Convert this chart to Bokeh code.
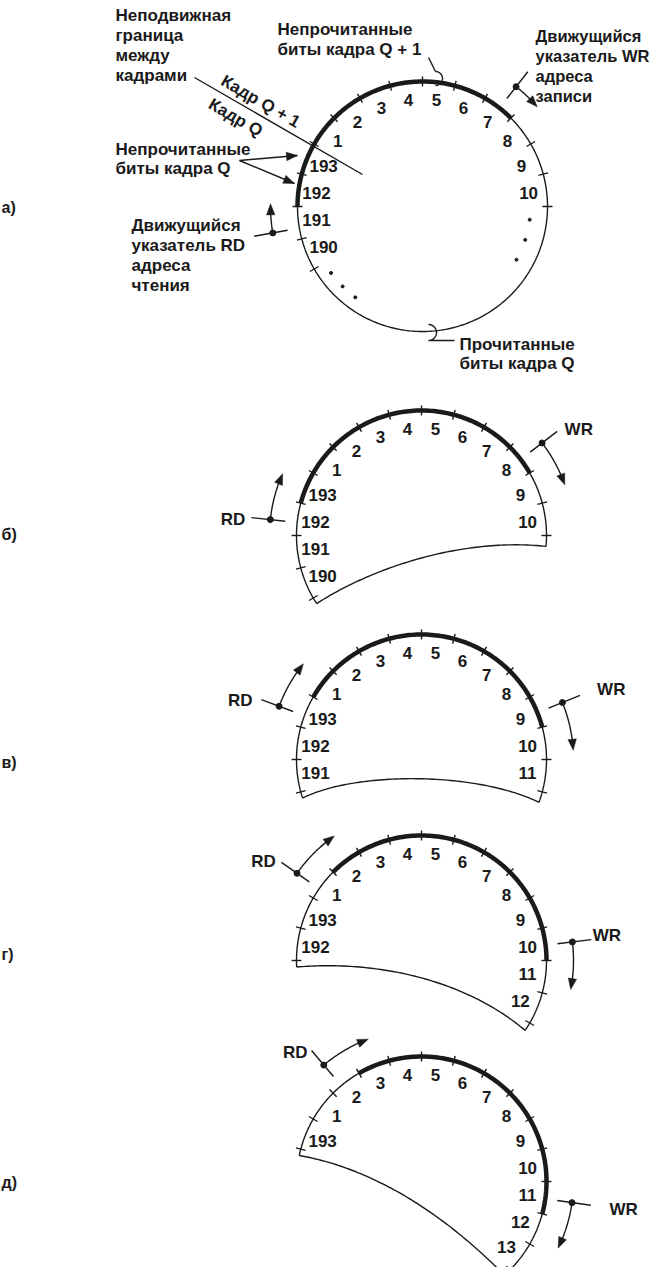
import numpy as np
from bokeh.plotting import figure
from bokeh.models import Range1d
from bokeh.core.properties import value
from bokeh.embed import file_html
from bokeh.resources import INLINE

# ---------------- data ----------------
panel_tags = ["а)", "б)", "в)", "г)", "д)"]
tag_y = [215, 542, 770, 962, 1190]
centers_x = [430, 429, 429, 429, 429]
centers_y = [214, 543, 767, 968, 1189]
radius = 125

bit_labels = [
    ["190", "191", "192", "193", "1", "2", "3", "4", "5", "6", "7", "8", "9", "10"],
    ["190", "191", "192", "193", "1", "2", "3", "4", "5", "6", "7", "8", "9", "10"],
    ["191", "192", "193", "1", "2", "3", "4", "5", "6", "7", "8", "9", "10", "11"],
    ["192", "193", "1", "2", "3", "4", "5", "6", "7", "8", "9", "10", "11", "12"],
    ["193", "1", "2", "3", "4", "5", "6", "7", "8", "9", "10", "11", "12", "13"],
]
tick_range = [(-120, 90), (-120, 90), (-105, 105), (-90, 120), (-75, 135)]
outline_range = [(0, 360), (-123, 95), (-108, 110), (-93, 124), (-78, 138.5)]
thick_range = [(-90, 45), (-75, 60), (-60, 75), (-45, 90), (-30, 105)]
rd_ptr = [(-100, -89), (-84, -66), (-69.5, -51), (-55, -35), (-40, -20.5)]
wr_ptr = [(38, 49), (52.5, 70.5), (68, 86.5), (83, 101), (98, 116)]
# closing curve control points, offsets from the centre (panels б..д)
close_c1 = [None, (-49, 32), (-69, 13), (-49, 0), (-54, -14)]
close_c2 = [None, (41, 2), (51, 11), (41, 17), (16, 26)]
# RD / WR small labels (polar: angle, radius) for panels б..д
rd_txt = [None, (-84.8, 177), (-70.8, 179), (-55.9, 176), (-41.5, 172)]
wr_txt = [None, (53.5, 178), (68.3, 189), (81.7, 173), (98.5, 190)]
# dots "..." in panel a
dots_right = [97, 108, 119.5]
dots_left = [-126, -135, -143.5]

FONT = value("Liberation Sans")
TXT = "17px"
NUM = "17px"
W, H = 654, 1267

p = figure(width=W, height=H, output_backend="svg", toolbar_location=None,
           x_range=Range1d(8, 8 + W), y_range=Range1d(-(8 + H), -8),
           min_border=0)
p.axis.visible = False
p.grid.visible = False
p.outline_line_color = None
p.background_fill_color = "white"
p.border_fill_color = "white"

K = "#1a1a1a"


def pol(cx, cy, r, a):
    t = np.radians(a)
    return cx + r * np.sin(t), -(cy - r * np.cos(t))


def arc(cx, cy, r, a0, a1, n=120):
    a = np.linspace(a0, a1, n)
    x, y = pol(cx, cy, r, a)
    return list(x), list(y)


def head(tip, d, L=11, w=4.2):
    tx, ty = tip
    dx, dy = d
    n = np.hypot(dx, dy)
    dx, dy = dx / n, dy / n
    bx, by = tx - dx * L, ty - dy * L
    return [tx, bx - dy * w, bx + dy * w], [ty, by + dx * w, by - dx * w]


def txt(x, Y, s, size=TXT, align="left", angle=0.0, base="middle"):
    p.text([x], [-Y], text=[s], text_font=FONT, text_font_style="bold",
           text_font_size=size, text_align=align, text_baseline=base,
           angle=angle, text_color=K)


thin_xs, thin_ys, thick_xs, thick_ys = [], [], [], []
heads_x, heads_y = [], []
dot_x, dot_y = [], []

for i in range(5):
    cx, cy = centers_x[i], centers_y[i]
    # outline
    x, y = arc(cx, cy, radius, *outline_range[i], n=360)
    thin_xs.append(x); thin_ys.append(y)
    # closing curve
    if i > 0:
        sx, sy = pol(cx, cy, radius, outline_range[i][0])
        ex, ey = pol(cx, cy, radius, outline_range[i][1])
        c1 = (cx + close_c1[i][0], -(cy + close_c1[i][1]))
        c2 = (cx + close_c2[i][0], -(cy + close_c2[i][1]))
        t = np.linspace(0, 1, 80)
        bx = (1 - t) ** 3 * sx + 3 * (1 - t) ** 2 * t * c1[0] + 3 * (1 - t) * t ** 2 * c2[0] + t ** 3 * ex
        by = (1 - t) ** 3 * sy + 3 * (1 - t) ** 2 * t * c1[1] + 3 * (1 - t) * t ** 2 * c2[1] + t ** 3 * ey
        thin_xs.append(list(bx)); thin_ys.append(list(by))
    # thick
    x, y = arc(cx, cy, radius, *thick_range[i])
    thick_xs.append(x); thick_ys.append(y)
    # ticks
    for a in np.arange(tick_range[i][0], tick_range[i][1] + 1, 15):
        x0, y0 = pol(cx, cy, radius - 5, a)
        x1, y1 = pol(cx, cy, radius + 5, a)
        thin_xs.append([x0, x1]); thin_ys.append([y0, y1])
    # labels
    lx, ly = [], []
    for s in bit_labels[i]:
        v = int(s)
        pos = v - 194 if v > 100 else v - 1
        a = -52.5 + 15 * pos
        x, y = pol(cx, cy, 107, a)
        lx.append(x); ly.append(y)
    p.text(lx, ly, text=bit_labels[i], text_font=FONT, text_font_style="bold",
           text_font_size=NUM, text_align="center", text_baseline="middle",
           text_color=K)
    # pointers
    for (a0, a1) in (rd_ptr[i], wr_ptr[i]):
        x0, y0 = pol(cx, cy, 137, a0)
        x1, y1 = pol(cx, cy, 171, a0)
        thin_xs.append([x0, x1]); thin_ys.append([y0, y1])
        dx_, dy_ = pol(cx, cy, 152, a0)
        dot_x.append(dx_); dot_y.append(dy_)
        x, y = arc(cx, cy, 152, a0, a1 - 3, n=40)
        thin_xs.append(x); thin_ys.append(y)
        tip = pol(cx, cy, 152, a1)
        prev = pol(cx, cy, 152, a1 - 4)
        hx, hy = head(tip, (tip[0] - prev[0], tip[1] - prev[1]))
        heads_x.append(hx); heads_y.append(hy)
    # panel tag
    txt(9, tag_y[i], panel_tags[i], size="16px")
    # RD / WR
    if i > 0:
        x, y = pol(cx, cy, rd_txt[i][1], rd_txt[i][0])
        p.text([x], [y], text=["RD"], text_font=FONT, text_font_style="bold",
               text_font_size=TXT, text_align="right", text_baseline="middle", text_color=K)
        x, y = pol(cx, cy, wr_txt[i][1], wr_txt[i][0])
        p.text([x], [y], text=["WR"], text_font=FONT, text_font_style="bold",
               text_font_size=TXT, text_align="left", text_baseline="middle", text_color=K)

# dots in panel a
ddx, ddy = [], []
for a in dots_right:
    x, y = pol(centers_x[0], centers_y[0], 108, a); ddx.append(x); ddy.append(y)
for a in dots_left:
    x, y = pol(centers_x[0], centers_y[0], 113, a); ddx.append(x); ddy.append(y)
p.scatter(ddx, ddy, size=3, color=K)

# panel a annotations
for k, s in enumerate(["Неподвижная", "граница", "между", "кадрами"]):
    txt(123, 23 + 20 * k, s)
thin_xs.append([202, 370]); thin_ys.append([-85, -182])
txt(268, 109, "Кадр Q + 1", align="center", angle=-np.radians(30))
txt(243, 125, "Кадр Q", align="center", angle=-np.radians(30))

for k, s in enumerate(["Непрочитанные", "биты кадра Q + 1"]):
    txt(285, 37 + 20 * k, s)
for k, s in enumerate(["Непрочитанные", "биты кадра Q"]):
    txt(123, 157 + 19 * k, s)
for tip in [(305, 163), (302, 191)]:
    thin_xs.append([247, tip[0]]); thin_ys.append([-168, -tip[1]])
    hx, hy = head((tip[0], -tip[1]), (tip[0] - 247, -tip[1] + 168))
    heads_x.append(hx); heads_y.append(hy)
for k, s in enumerate(["Движущийся", "указатель RD", "адреса", "чтения"]):
    txt(139, 233 + 20 * k, s)
for k, s in enumerate(["Движущийся", "указатель WR", "адреса", "записи"]):
    txt(543, 43 + 20 * k, s, size="16.5px")
for k, s in enumerate(["Прочитанные", "биты кадра Q"]):
    txt(467, 352 + 19 * k, s)

# small loops (markers on the circle)
tt = np.linspace(-90, 90, 30)
thin_xs.append([436, 443]); thin_ys.append([-65, -79])
lx = 443 + 7 * np.cos(np.radians(tt)); ly = -(86 + 7 * np.sin(np.radians(tt)))
thin_xs.append(list(lx)); thin_ys.append(list(ly))
lx = 436 + 8 * np.cos(np.radians(tt)); ly = -(340 + 8 * np.sin(np.radians(tt)))
thin_xs.append(list(lx) + [462]); thin_ys.append(list(ly) + [-348])

p.multi_line(thin_xs, thin_ys, line_width=1.4, line_color=K)
p.multi_line(thick_xs, thick_ys, line_width=4.5, line_color=K, line_cap="butt")
p.patches(heads_x, heads_y, fill_color=K, line_color=K, line_width=0.5)
p.scatter(dot_x, dot_y, size=6, color=K)

open("out.html", "w").write(file_html(p, INLINE))
